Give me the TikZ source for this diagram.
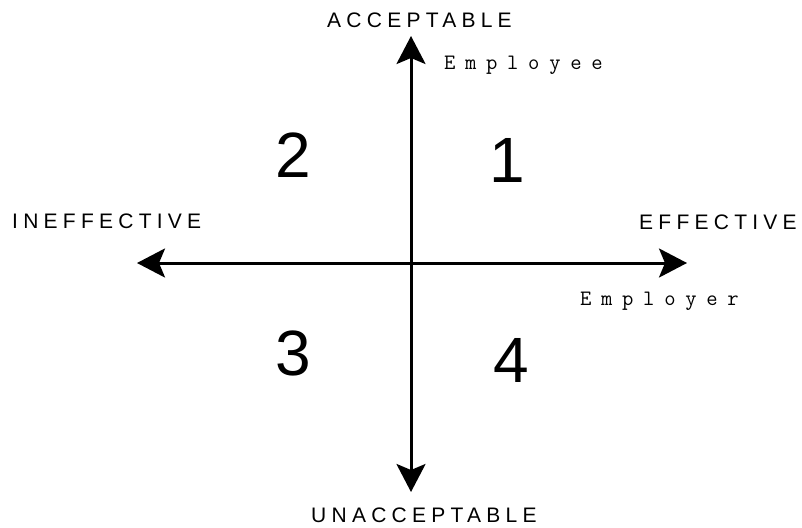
\documentclass[tikz,border=0pt]{standalone}
\usepackage{fontspec}
\setmainfont{Liberation Sans}
\newfontfamily\axisfont[LetterSpace=25]{Liberation Sans}
\newfontfamily\rolefont[LetterSpace=44]{Latin Modern Mono}
\usetikzlibrary{arrows.meta}

\begin{document}
\begin{tikzpicture}[x=1pt, y=-1pt,
    >={Stealth[length=28pt, width=29pt, inset=6pt]},
    axis/.style={line width=3pt, <->},
    axislabel/.style={inner sep=0pt, anchor=base west,
                      font=\fontsize{21}{21}\axisfont},
    role/.style={inner sep=0pt, anchor=base west,
                 font=\fontsize{22}{22}\rolefont},
    quadrant/.style={inner sep=0pt, anchor=base,
                     font=\fontsize{64}{64}\selectfont}]
  \useasboundingbox (0,0) rectangle (802,527);

  % axis ends
  \coordinate (top) at (411,36);
  \coordinate (bottom) at (411,492);
  \coordinate (left) at (137,263);
  \coordinate (right) at (687,263);

  \draw[axis] (top) -- (bottom);
  \draw[axis] (left) -- (right);

  % axis labels
  \node[axislabel] (acc) at (327,28) {ACCEPTABLE};
  \node[axislabel] (unacc) at (311,522) {UNACCEPTABLE};
  \node[axislabel] (ineff) at (12,228) {INEFFECTIVE};
  \node[axislabel] (eff) at (639,229) {EFFECTIVE};

  \node[role] (employee) at (444,70) {Employee};
  \node[role] (employer) at (580,305) {Employer};

  % quadrants
  \node[quadrant] (q1) at (507,182) {1};
  \node[quadrant] (q2) at (293,177) {2};
  \node[quadrant] (q3) at (293,375) {3};
  \node[quadrant] (q4) at (511,382) {4};
\end{tikzpicture}
\end{document}
